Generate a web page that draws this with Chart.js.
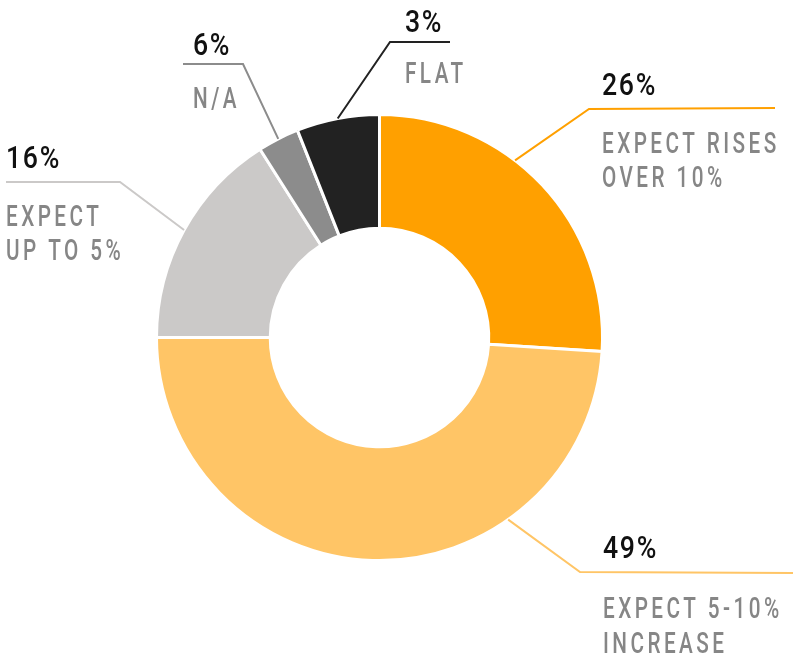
<!DOCTYPE html>
<html>
<head>
    <meta charset="utf-8">
    <style>
        html, body { margin: 0; padding: 0; background: #fff; }
        .chart-wrap { width: 800px; height: 662px; position: relative; }
    </style>
</head>
<body>
<div class="chart-wrap">
    <canvas id="outlook-chart"></canvas>
</div>
<script src="https://cdn.jsdelivr.net/npm/chart.js"></script>
<script type="text/javascript">
    // slice values as measured from the ring, clockwise from 12 o'clock
    const categories = ['EXPECT RISES OVER 10%', 'EXPECT 5-10% INCREASE', 'EXPECT UP TO 5%', 'N/A', 'FLAT'];
    const sliceValues = [26, 49, 16, 3, 6];
    // printed callouts (as written on the picture)
    const pctLabels = ['26%', '49%', '16%', '6%', '3%'];
    const nameLines = [['EXPECT RISES', 'OVER 10%'], ['EXPECT 5-10%', 'INCREASE'], ['EXPECT', 'UP TO 5%'], ['N/A'], ['FLAT']];
    const sliceColors = ['#FFA000', '#FFC566', '#CBC9C8', '#8C8C8C', '#222222'];

    // callout layout: where along the arc the leader starts, elbow, line end, text anchor
    const calloutLayout = [
        { at: 0.40, elbow: [589, 109], end: [775, 108], tx: 602, pctY: 95,  nameY: [153, 187] },
        { at: 0.29, elbow: [580, 572], end: [793, 573], tx: 603, pctY: 558, nameY: [618, 653] },
        { at: 0.50, elbow: [120, 182], end: [6, 182],   tx: 6,   pctY: 168, nameY: [226, 260] },
        { at: 0.50, elbow: [243, 64],  end: [183, 64],  tx: 193, pctY: 55,  nameY: [108] },
        { at: 0.50, elbow: [390, 42],  end: [450, 42],  tx: 405, pctY: 32,  nameY: [83] }
    ];

    const FONT_FAMILY = 'Roboto, "Liberation Sans", sans-serif';
    // no condensed face is installed, so squeeze the text horizontally
    const PCT_SQUEEZE = 0.86;
    const NAME_SQUEEZE = 0.69;

    function drawSqueezed(ctx, text, x, y, squeeze) {
        ctx.save();
        ctx.translate(x, y);
        ctx.scale(squeeze, 1);
        ctx.fillText(text, 0, 0);
        ctx.restore();
    }

    const calloutPlugin = {
        id: 'callouts',
        afterDraw(chart) {
            const ctx = chart.ctx;
            const arcs = chart.getDatasetMeta(0).data;
            ctx.save();
            arcs.forEach((arc, i) => {
                const lay = calloutLayout[i];
                const a = arc.startAngle + (arc.endAngle - arc.startAngle) * lay.at;
                const r = arc.outerRadius;
                const sx = arc.x + Math.cos(a) * r;
                const sy = arc.y + Math.sin(a) * r;

                ctx.strokeStyle = sliceColors[i];
                ctx.lineWidth = 2;
                ctx.beginPath();
                ctx.moveTo(sx, sy);
                ctx.lineTo(lay.elbow[0], lay.elbow[1]);
                ctx.lineTo(lay.end[0], lay.end[1]);
                ctx.stroke();

                ctx.textAlign = 'left';
                ctx.textBaseline = 'alphabetic';
                ctx.letterSpacing = '2px';
                ctx.fillStyle = '#111111';
                ctx.font = '500 31px ' + FONT_FAMILY;
                drawSqueezed(ctx, pctLabels[i], lay.tx, lay.pctY, PCT_SQUEEZE);

                ctx.letterSpacing = '5px';
                ctx.fillStyle = '#868686';
                ctx.font = '500 30px ' + FONT_FAMILY;
                nameLines[i].forEach((line, k) => {
                    drawSqueezed(ctx, line, lay.tx, lay.nameY[k], NAME_SQUEEZE);
                });
            });
            ctx.restore();
        }
    };

    const outlookChart = new Chart(document.getElementById('outlook-chart'), {
        type: 'doughnut',
        data: {
            labels: categories,
            datasets: [{
                data: sliceValues,
                backgroundColor: sliceColors,
                borderColor: '#ffffff',
                borderWidth: 3
            }]
        },
        options: {
            responsive: true,
            maintainAspectRatio: false,
            animation: false,
            cutout: '49%',
            layout: { padding: { left: 155, right: 196, top: 113, bottom: 100 } },
            plugins: {
                legend: { display: false },
                tooltip: { enabled: false }
            }
        },
        plugins: [calloutPlugin]
    });
</script>
</body>
</html>
